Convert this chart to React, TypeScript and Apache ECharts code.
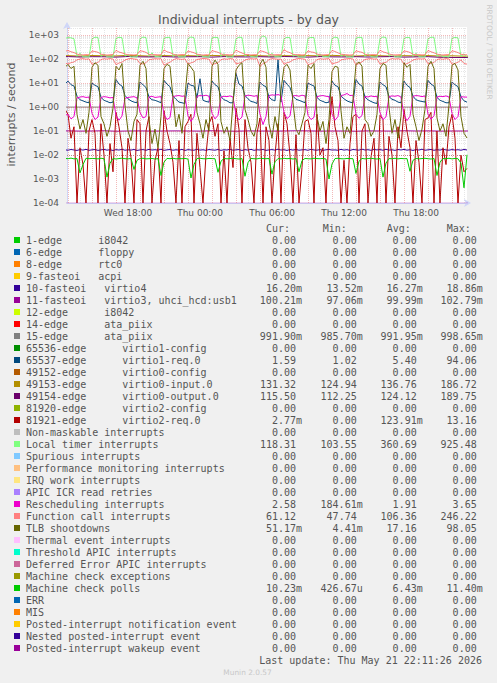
import React, { useEffect, useRef } from 'react';
import * as echarts from 'echarts';

const W = 497;
const H = 683;
const Y_MIN = 1e-4;
const Y_MAX = Math.pow(10, 10 / 3);
const X_MIN = 12.917;
const X_MAX = 46.25;

// sample times in hours since Wed 00:00
const fineTimes = Array.from({ length: 135 }, (_, i) => 12.75 + i * 0.25);
const coarseTimes = Array.from({ length: 36 }, (_, i) => 12 + i);

const xLabelHours = [18, 24, 30, 36, 42];
const xLabelTexts = ['Wed 18:00', 'Thu 00:00', 'Thu 06:00', 'Thu 12:00', 'Thu 18:00'];

// ---- series values ----
const localTimer = [
  720,
  780, 760, 700, 130, 175, 122, 125, 120,
  690, 810, 790, 128, 165, 124, 122, 118,
  720, 800, 770, 132, 150, 120, 124, 121,
  700, 820, 780, 130, 180, 125, 126, 119,
  740, 790, 800, 128, 160, 122, 123, 120,
  710, 830, 770, 131, 155, 124, 125, 118,
  760, 800, 780, 127, 170, 121, 122, 121,
  690, 810, 790, 130, 160, 126, 124, 119,
  720, 925, 800, 129, 175, 123, 125, 120,
  700, 800, 770, 132, 150, 120, 123, 118,
  730, 790, 780, 128, 165, 124, 126, 121,
  710, 820, 760, 130, 160, 122, 124, 119,
  740, 800, 790, 127, 170, 125, 122, 120,
  700, 830, 780, 131, 155, 121, 125, 118,
  720, 800, 770, 129, 175, 124, 123, 121,
  690, 810, 800, 130, 160, 122, 126, 119,
  730, 790, 760, 128, 165, 118,
];

const functionCallUpper = [
  210,
  225, 200, 185, 160, 150, 148, 152, 150,
  215, 205, 190, 158, 152, 146, 150, 155,
  230, 195, 180, 162, 148, 150, 147, 152,
  220, 210, 188, 155, 150, 152, 149, 150,
  240, 200, 185, 160, 147, 149, 153, 151,
  215, 198, 182, 158, 151, 146, 150, 148,
  225, 205, 190, 163, 149, 152, 148, 153,
  235, 200, 178, 156, 152, 147, 151, 150,
  220, 208, 186, 160, 148, 150, 152, 149,
  246, 202, 184, 157, 150, 153, 147, 151,
  218, 196, 188, 161, 149, 148, 150, 152,
  228, 205, 180, 159, 152, 150, 146, 150,
  222, 200, 190, 158, 147, 151, 152, 149,
  232, 198, 183, 162, 150, 148, 150, 153,
  216, 206, 187, 156, 151, 152, 148, 150,
  226, 200, 181, 160, 149, 147, 151, 152,
  220, 204, 185, 158, 150, 150,
];

const functionCall = [
  68,
  62, 70, 75, 92, 100, 104, 98, 102,
  60, 66, 72, 95, 103, 99, 105, 100,
  58, 68, 74, 90, 101, 106, 100, 97,
  64, 62, 70, 94, 98, 103, 101, 104,
  55, 65, 73, 91, 104, 100, 97, 102,
  61, 69, 76, 96, 100, 105, 103, 99,
  57, 64, 71, 93, 102, 98, 104, 101,
  63, 67, 74, 90, 99, 103, 100, 105,
  48, 66, 72, 95, 104, 101, 98, 100,
  60, 70, 75, 92, 100, 106, 102, 98,
  58, 63, 71, 94, 103, 99, 101, 104,
  62, 68, 73, 91, 98, 102, 105, 100,
  56, 65, 76, 96, 101, 104, 99, 102,
  61, 69, 72, 93, 105, 100, 103, 98,
  59, 64, 74, 90, 99, 102, 100, 104,
  63, 67, 71, 95, 102, 98, 104, 101,
  60, 66, 73, 92, 65, 61,
];

const tlbShootdowns = [
  45,
  60, 40, 50, 0.5, 0.12, 0.3, 0.08, 0.6,
  45, 70, 55, 0.4, 0.2, 0.06, 0.15, 0.9,
  50, 35, 65, 1.2, 0.1, 0.04, 0.25, 0.5,
  55, 80, 40, 0.3, 0.03, 0.12, 0.02, 0.4,
  40, 60, 50, 2.5, 0.15, 0.5, 0.08, 3,
  65, 45, 30, 0.6, 0.2, 0.05, 0.3, 0.1,
  50, 90, 60, 0.25, 0.08, 0.15, 0.04, 1.5,
  35, 55, 70, 0.8, 0.3, 0.1, 0.06, 0.2,
  60, 98, 45, 0.2, 0.05, 0.4, 0.1, 5,
  45, 60, 35, 1.5, 0.12, 0.07, 0.2, 0.6,
  55, 40, 65, 0.4, 0.1, 0.25, 0.03, 0.3,
  30, 50, 45, 0.7, 0.05, 0.15, 0.08, 2,
  60, 75, 50, 0.3, 0.2, 0.06, 0.1, 0.5,
  40, 65, 55, 1, 0.08, 0.3, 0.05, 0.4,
  70, 45, 60, 0.5, 0.15, 0.04, 0.12, 0.8,
  50, 80, 40, 0.35, 0.1, 0.2, 0.06, 1.2,
  55, 65, 35, 0.4, 0.08, 0.051,
];

const virtio1Req = [
  9,
  12, 8.5, 7.5, 2.8, 2.0, 1.8, 1.6, 1.5,
  10, 8, 7, 2.5, 1.9, 1.7, 1.5, 1.6,
  14, 9, 7.5, 3, 2.2, 1.8, 1.6, 1.5,
  11, 8.5, 6.5, 2.6, 2.0, 1.9, 1.7, 1.5,
  13, 9, 7, 2.8, 2.1, 1.6, 1.5, 1.4,
  10, 8, 7.5, 2.4, 15, 1.9, 1.7, 1.6,
  12, 8.5, 7, 2.7, 2.0, 1.8, 1.5, 1.5,
  25, 9, 7.5, 3, 2.2, 1.7, 1.6, 1.4,
  11, 8, 7, 2.6, 2.0, 1.8, 94, 1.6,
  13, 9, 6.5, 2.8, 2.1, 1.9, 1.7, 1.5,
  10, 8.5, 7.5, 2.5, 1.9, 1.7, 1.5, 1.6,
  12, 8, 7, 2.9, 2.2, 1.8, 1.6, 1.5,
  14, 9, 7.5, 2.6, 2.0, 1.7, 1.5, 1.4,
  11, 8.5, 7, 2.7, 2.1, 1.9, 1.6, 1.5,
  12, 8, 6.5, 2.8, 2.0, 1.8, 1.7, 1.6,
  13, 9, 7.5, 2.5, 1.9, 1.7, 1.5, 1.5,
  11, 8.5, 7, 2.6, 1.8, 1.59,
];

const rescheduling = [
  0.45,
  0.5, 0.32, 0.4, 2.4, 2.6, 2.7, 2.5, 2.6,
  0.55, 0.3, 0.38, 2.5, 2.7, 2.6, 2.4, 2.5,
  0.45, 0.28, 0.42, 2.3, 2.5, 2.6, 2.7, 2.4,
  0.6, 0.35, 0.4, 2.6, 2.8, 2.5, 2.6, 2.7,
  0.5, 0.3, 0.36, 2.7, 2.9, 3.0, 2.8, 2.9,
  0.42, 0.25, 0.4, 2.8, 3.0, 2.9, 3.1, 2.8,
  0.55, 0.32, 0.45, 2.6, 2.8, 2.7, 2.9, 2.6,
  0.48, 0.29, 0.38, 2.9, 3.1, 3.0, 2.8, 3.0,
  0.5, 0.185, 0.4, 3.0, 3.2, 3.1, 3.3, 3.0,
  0.6, 0.33, 0.42, 2.9, 3.0, 2.8, 3.1, 2.9,
  0.45, 0.3, 0.37, 2.7, 2.9, 3.0, 2.8, 2.7,
  0.52, 0.28, 0.4, 3.0, 3.2, 3.65, 3.0, 3.1,
  0.5, 0.34, 0.44, 2.8, 2.6, 2.9, 2.7, 2.8,
  0.58, 0.3, 0.39, 2.7, 2.9, 2.8, 3.0, 2.6,
  0.46, 0.27, 0.41, 2.8, 3.0, 2.9, 2.7, 2.9,
  0.5, 0.31, 0.43, 2.6, 2.8, 2.7, 2.9, 2.6,
  0.55, 0.3, 0.4, 2.7, 2.6, 2.58,
];

const virtio2Req = [
  0.8,
  0.5, 0.05, 0.15, 0, 0.02, 0.004, 0, 0.1,
  0.3, 0.08, 0, 0.2, 0.01, 0, 0.03, 0.002,
  0.6, 0.15, 0.02, 0, 0.05, 0.008, 0, 0.3,
  0.2, 0, 0.1, 0.4, 0, 0.006, 0.02, 0,
  0.7, 0.1, 0.03, 0.005, 0, 0.04, 0, 0.15,
  0.25, 0.5, 0, 0.08, 0.003, 0, 0.01, 0.2,
  0.4, 0.06, 0.2, 0, 0.015, 0, 0.05, 0.003,
  0.9, 0.12, 0, 0.3, 0.02, 0.005, 0, 0.08,
  0.35, 0, 0.15, 0.04, 0, 0.01, 0.2, 0,
  0.6, 0.2, 0.01, 0, 0.07, 0, 0.003, 0.25,
  0.3, 0.08, 0, 0.5, 0.01, 0.02, 0, 0.1,
  2.7, 0.15, 0.04, 0, 0.006, 0, 0.03, 0.4,
  0.5, 0, 0.1, 0.2, 0, 0.008, 0.05, 0,
  0.45, 0.3, 0, 0.06, 0.01, 0, 0.15, 0.02,
  0.8, 0.1, 0.02, 0, 0.04, 0.005, 0, 0.3,
  0.35, 0.6, 0, 0.1, 0, 0.02, 0.004, 0.15,
  0.5, 0.05, 0, 0.01, 0.002, 0.00277,
];

const machineCheckPolls = [
  0.0072, 0.0070, 0.0074, 0.0069, 0.0071, 0.0018, 0.0040, 0.0073, 0.0070, 0.0072,
  0.0071, 0.0069, 0.0073, 0.0070, 0.0012, 0.0045, 0.0072, 0.0068, 0.0071, 0.0074,
  0.0070, 0.0069, 0.0072, 0.0025, 0.0060, 0.0071, 0.0073, 0.0069, 0.0070, 0.0072,
  0.0068, 0.0071, 0.0014, 0.0050, 0.0072, 0.0070, 0.0073, 0.0069, 0.0071, 0.0070,
  0.0072, 0.0068, 0.0011, 0.0040, 0.0071, 0.0073, 0.0070, 0.0069, 0.0072, 0.0071,
  0.0070, 0.0019, 0.0055, 0.0072, 0.0069, 0.0071, 0.0073, 0.0070, 0.0068, 0.0071,
  0.0013, 0.0048, 0.0072, 0.0070, 0.0069, 0.0073, 0.0071, 0.0070, 0.0072, 0.0016,
  0.0052, 0.0071, 0.0069, 0.0073, 0.0070, 0.0072, 0.0068, 0.0071, 0.0020, 0.0058,
  0.0072, 0.0070, 0.0069, 0.0073, 0.0071, 0.0070, 0.0072, 0.0068, 0.0010, 0.0042,
  0.0071, 0.0073, 0.0070, 0.0069, 0.0072, 0.0071, 0.0070, 0.0017, 0.0055, 0.0072,
  0.0069, 0.0071, 0.0073, 0.0070, 0.0068, 0.0072, 0.0012, 0.0046, 0.0071, 0.0070,
  0.0073, 0.0069, 0.0072, 0.0070, 0.0071, 0.0021, 0.0060, 0.0072, 0.0069, 0.0071,
  0.0073, 0.0070, 0.0068, 0.0072, 0.0014, 0.0050, 0.0071, 0.0070, 0.0073, 0.0069,
  0.0072, 0.0070, 0.0045, 0.00043, 0.0102,
];

const virtio4 = [
  0.0165, 0.0158, 0.0170, 0.0162, 0.0155, 0.0168, 0.0160, 0.0172, 0.0157, 0.0164,
  0.0169, 0.0156, 0.0163, 0.0171, 0.0159, 0.0166, 0.0154, 0.0167, 0.0161, 0.0173,
  0.0158, 0.0165, 0.0160, 0.0170, 0.0155, 0.0163, 0.0168, 0.0157, 0.0172, 0.0161,
  0.0166, 0.0159, 0.0174, 0.0156, 0.0164, 0.0169, 0.0158, 0.0165, 0.0160, 0.0171,
  0.0155, 0.0167, 0.0162, 0.0158, 0.0173, 0.0160, 0.0165, 0.0157, 0.0169, 0.0163,
  0.0159, 0.0170, 0.0156, 0.0166, 0.0161, 0.0175, 0.0158, 0.0164, 0.0168, 0.0155,
  0.0167, 0.0160, 0.0172, 0.0157, 0.0165, 0.0162, 0.0170, 0.0156, 0.0163, 0.0168,
  0.0159, 0.0174, 0.0161, 0.0166, 0.0155, 0.0169, 0.0160, 0.0171, 0.0158, 0.0164,
  0.0167, 0.0157, 0.0173, 0.0162, 0.0159, 0.0168, 0.0156, 0.0165, 0.0170, 0.0161,
  0.0163, 0.0158, 0.0172, 0.0160, 0.0167, 0.0155, 0.0169, 0.0164, 0.0159, 0.0175,
  0.0161, 0.0166, 0.0157, 0.0170, 0.0163, 0.0168, 0.0158, 0.0173, 0.0160, 0.0165,
  0.0156, 0.0169, 0.0162, 0.0171, 0.0159, 0.0166, 0.0155, 0.0168, 0.0161, 0.0174,
  0.0158, 0.0164, 0.0170, 0.0157, 0.0167, 0.0160, 0.0172, 0.0163, 0.0159, 0.0168,
  0.0161, 0.0166, 0.0158, 0.0170, 0.0162,
];

const virtio0Input = [
  135, 138, 132, 140, 136, 134, 142, 137, 131, 139, 135, 138, 133, 141, 136, 134, 140, 137,
  132, 138, 135, 139, 134, 142, 136, 133, 140, 137, 131, 138, 135, 139, 133, 136, 131, 131,
];
const virtio0Output = [
  123, 126, 121, 125, 124, 120, 127, 123, 122, 126, 121, 124, 125, 120, 126, 123, 122, 125,
  121, 127, 124, 120, 126, 123, 122, 125, 121, 124, 126, 120, 123, 125, 118, 116, 115.5, 115.5,
];
const ataPiix15 = [
  0.992, 0.991, 0.993, 0.990, 0.992, 0.994, 0.991, 0.992, 0.990, 0.993, 0.992, 0.991,
  0.994, 0.992, 0.990, 0.993, 0.991, 0.992, 0.993, 0.990, 0.992, 0.994, 0.991, 0.992,
  0.993, 0.990, 0.992, 0.991, 0.993, 0.992, 0.990, 0.994, 0.991, 0.992, 0.992, 0.992,
];
const virtio3 = [
  0.100, 0.101, 0.099, 0.100, 0.102, 0.098, 0.100, 0.101, 0.099, 0.100, 0.101, 0.100,
  0.099, 0.102, 0.100, 0.098, 0.101, 0.100, 0.099, 0.100, 0.102, 0.101, 0.099, 0.100,
  0.100, 0.098, 0.101, 0.100, 0.099, 0.102, 0.100, 0.101, 0.099, 0.100, 0.100, 0.1002,
];
const zeroLine = coarseTimes.map(() => 0);

// ---- legend table ----
const legendLabels = [
  '1-edge      i8042',
  '6-edge      floppy',
  '8-edge      rtc0',
  '9-fasteoi   acpi',
  '10-fasteoi   virtio4',
  '11-fasteoi   virtio3, uhci_hcd:usb1',
  '12-edge      i8042',
  '14-edge      ata_piix',
  '15-edge      ata_piix',
  '65536-edge      virtio1-config',
  '65537-edge      virtio1-req.0',
  '49152-edge      virtio0-config',
  '49153-edge      virtio0-input.0',
  '49154-edge      virtio0-output.0',
  '81920-edge      virtio2-config',
  '81921-edge      virtio2-req.0',
  'Non-maskable interrupts',
  'Local timer interrupts',
  'Spurious interrupts',
  'Performance monitoring interrupts',
  'IRQ work interrupts',
  'APIC ICR read retries',
  'Rescheduling interrupts',
  'Function call interrupts',
  'TLB shootdowns',
  'Thermal event interrupts',
  'Threshold APIC interrupts',
  'Deferred Error APIC interrupts',
  'Machine check exceptions',
  'Machine check polls',
  'ERR',
  'MIS',
  'Posted-interrupt notification event',
  'Nested posted-interrupt event',
  'Posted-interrupt wakeup event',
];
const legendColors = [
  '#00CC00', '#0066B3', '#FF8000', '#FFCC00', '#330099', '#990099', '#CCFF00', '#FF0000',
  '#808080', '#008F00', '#00487D', '#B35A00', '#B38F00', '#6B006B', '#8FB300', '#B30000',
  '#BEBEBE', '#80FF80', '#80C9FF', '#FFC080', '#FFE680', '#AA80FF', '#EE00CC', '#FF8080',
  '#666600', '#FFBFFF', '#00FFCC', '#CC6699', '#999900', '#00CC00', '#0066B3', '#FF8000',
  '#FFCC00', '#330099', '#990099',
];
const curValues = [
  '0.00', '0.00', '0.00', '0.00', '16.20m', '100.21m', '0.00', '0.00', '991.90m', '0.00',
  '1.59', '0.00', '131.32', '115.50', '0.00', '2.77m', '0.00', '118.31', '0.00', '0.00',
  '0.00', '0.00', '2.58', '61.12', '51.17m', '0.00', '0.00', '0.00', '0.00', '10.23m',
  '0.00', '0.00', '0.00', '0.00', '0.00',
];
const minValues = [
  '0.00', '0.00', '0.00', '0.00', '13.52m', '97.06m', '0.00', '0.00', '985.70m', '0.00',
  '1.02', '0.00', '124.94', '112.25', '0.00', '0.00', '0.00', '103.55', '0.00', '0.00',
  '0.00', '0.00', '184.61m', '47.74', '4.41m', '0.00', '0.00', '0.00', '0.00', '426.67u',
  '0.00', '0.00', '0.00', '0.00', '0.00',
];
const avgValues = [
  '0.00', '0.00', '0.00', '0.00', '16.27m', '99.99m', '0.00', '0.00', '991.95m', '0.00',
  '5.40', '0.00', '136.76', '124.12', '0.00', '123.91m', '0.00', '360.69', '0.00', '0.00',
  '0.00', '0.00', '1.91', '106.36', '17.16', '0.00', '0.00', '0.00', '0.00', '6.43m',
  '0.00', '0.00', '0.00', '0.00', '0.00',
];
const maxValues = [
  '0.00', '0.00', '0.00', '0.00', '18.86m', '102.79m', '0.00', '0.00', '998.65m', '0.00',
  '94.06', '0.00', '186.72', '189.75', '0.00', '13.16', '0.00', '925.48', '0.00', '0.00',
  '0.00', '0.00', '3.65', '246.22', '98.05', '0.00', '0.00', '0.00', '0.00', '11.40m',
  '0.00', '0.00', '0.00', '0.00', '0.00',
];
const columnHeaders = ['Cur:', 'Min:', 'Avg:', 'Max:'];

function fmtExp(v: number): string {
  const e = Math.round(Math.log10(v));
  return '1e' + (e < 0 ? '-' : '+') + String(Math.abs(e)).padStart(2, '0');
}

function lineSeries(name: string, color: string, times: number[], values: number[], z: number, opacity = 1) {
  return {
    type: 'line',
    name,
    data: times.map((t, i) => [t, values[i] <= 0 ? Y_MIN : values[i]]),
    showSymbol: false,
    symbol: 'none',
    silent: true,
    clip: true,
    z,
    lineStyle: { color, width: 1, opacity },
    itemStyle: { color },
    emphasis: { disabled: true },
  };
}

export default function App() {
  const ref = useRef<HTMLDivElement>(null);

  useEffect(() => {
    if (!ref.current) return;
    const chart = echarts.init(ref.current, undefined, { renderer: 'svg', width: W, height: H });

    const majorHours: number[] = [];
    const minorHours: number[] = [];
    for (let h = 13; h <= 46; h++) (h % 2 === 1 ? majorHours : minorHours).push(h);
    const majorY: number[] = [];
    const minorY: number[] = [];
    for (let n = -4; n <= 3; n++) {
      majorY.push(Math.pow(10, n));
      for (let k = 2; k <= 9; k++) {
        const v = k * Math.pow(10, n);
        if (v < Y_MAX) minorY.push(v);
      }
    }

    const mono = '10px "DejaVu Sans Mono", monospace';
    const textColor = '#555555';
    const graphics: any[] = [];
    graphics.push({
      type: 'text', x: 248.5, y: 19, silent: true,
      style: { text: 'Individual interrupts - by day', font: '12.5px "DejaVu Sans"', fill: textColor, textAlign: 'center', textVerticalAlign: 'middle' },
    });
    graphics.push({
      type: 'text', x: 11, y: 114.5, rotation: Math.PI / 2, silent: true,
      style: { text: 'interrupts / second', font: '11px "DejaVu Sans"', fill: textColor, textAlign: 'center', textVerticalAlign: 'middle' },
    });
    graphics.push({
      type: 'text', x: 489, y: 52, rotation: -Math.PI / 2, silent: true,
      style: { text: 'RRDTOOL / TOBI OETIKER', font: '7.4px "DejaVu Sans"', fill: '#C8C8C8', textAlign: 'center', textVerticalAlign: 'middle' },
    });
    const headerX = [266, 322.7, 386.7, 446.7];
    columnHeaders.forEach((h, i) => {
      graphics.push({
        type: 'text', x: headerX[i], y: 228, silent: true,
        style: { text: h, font: mono, fill: textColor, textAlign: 'left', textVerticalAlign: 'middle' },
      });
    });
    const colRight = [296, 356.7, 416.7, 476.7];
    legendLabels.forEach((label, i) => {
      const y = 240 + i * 12;
      graphics.push({ type: 'rect', silent: true, shape: { x: 14, y: y - 3, width: 6, height: 6 }, style: { fill: legendColors[i] } });
      graphics.push({
        type: 'text', x: 26, y, silent: true,
        style: { text: label, font: mono, fill: textColor, textAlign: 'left', textVerticalAlign: 'middle' },
      });
      [curValues[i], minValues[i], avgValues[i], maxValues[i]].forEach((s, c) => {
        const suffix = /[a-zA-Z]$/.test(s);
        graphics.push({
          type: 'text', x: colRight[c] + (suffix ? 6 : 0), y, silent: true,
          style: { text: s, font: mono, fill: textColor, textAlign: 'right', textVerticalAlign: 'middle' },
        });
      });
    });
    graphics.push({
      type: 'text', x: 482, y: 660, silent: true,
      style: { text: 'Last update: Thu May 21 22:11:26 2026', font: mono, fill: textColor, textAlign: 'right', textVerticalAlign: 'middle' },
    });
    graphics.push({
      type: 'text', x: 247.5, y: 672, silent: true,
      style: { text: 'Munin 2.0.57', font: '7.4px "DejaVu Sans"', fill: '#C8C8C8', textAlign: 'center', textVerticalAlign: 'middle' },
    });

    const gridSeries = (name: string, color: string, xs: number[], ys: number[]) => ({
      type: 'line',
      name,
      data: [],
      silent: true,
      z: 1,
      markLine: {
        silent: true,
        symbol: ['none', 'none'],
        label: { show: false },
        animation: false,
        lineStyle: { color, width: 1, type: [1, 1] },
        emphasis: { disabled: true },
        data: [...xs.map((x) => ({ xAxis: x })), ...ys.map((y) => ({ yAxis: y }))],
      },
    });

    const option: any = {
      animation: false,
      backgroundColor: '#F0F0F0',
      grid: { left: 67, right: W - 467, top: 27, bottom: H - 203, show: true, backgroundColor: '#FFFFFF', borderWidth: 0 },
      xAxis: {
        type: 'value',
        min: X_MIN,
        max: X_MAX,
        axisLine: { show: true, onZero: false, lineStyle: { color: '#CFD6F8', width: 1 }, symbol: ['none', 'arrow'], symbolSize: [6, 7], symbolOffset: [0, 4] },
        axisTick: { show: false },
        splitLine: { show: false },
        axisLabel: {
          customValues: xLabelHours,
          formatter: (v: number) => {
            const idx = xLabelHours.indexOf(Math.round(v));
            return idx >= 0 ? xLabelTexts[idx] : '';
          },
          color: textColor,
          fontFamily: 'DejaVu Sans',
          fontSize: 9,
          margin: 5,
        },
      },
      yAxis: {
        type: 'log',
        logBase: 10,
        min: Y_MIN,
        max: Y_MAX,
        axisLine: { show: true, onZero: false, lineStyle: { color: '#CFD6F8', width: 1 }, symbol: ['none', 'arrow'], symbolSize: [6, 7], symbolOffset: [0, 5] },
        axisTick: { show: false },
        splitLine: { show: false },
        axisLabel: {
          formatter: (v: number) => fmtExp(v),
          showMaxLabel: false,
          color: textColor,
          fontFamily: 'DejaVu Sans',
          fontSize: 9,
          margin: 8,
        },
      },
      graphic: graphics,
      series: [
        gridSeries('minor grid', 'rgba(140,140,140,0.22)', minorHours, minorY),
        gridSeries('major grid', 'rgba(225,80,80,0.4)', majorHours, majorY),
        lineSeries('10-fasteoi virtio4', '#330099', fineTimes, virtio4, 2),
        lineSeries('11-fasteoi virtio3', '#990099', coarseTimes, virtio3, 2),
        lineSeries('15-edge ata_piix', '#808080', coarseTimes, ataPiix15, 2),
        lineSeries('65537-edge virtio1-req.0', '#00487D', fineTimes, virtio1Req, 2),
        lineSeries('49153-edge virtio0-input.0', '#B38F00', coarseTimes, virtio0Input, 2),
        lineSeries('49154-edge virtio0-output.0', '#6B006B', coarseTimes, virtio0Output, 2),
        lineSeries('81921-edge virtio2-req.0', '#B30000', fineTimes, virtio2Req, 2),
        lineSeries('Local timer interrupts', '#80FF80', fineTimes, localTimer, 2),
        lineSeries('Rescheduling interrupts', '#EE00CC', fineTimes, rescheduling, 2),
        lineSeries('Function call interrupts', '#FF8080', fineTimes, functionCall, 2),
        lineSeries('Function call interrupts (upper)', '#FF8080', fineTimes, functionCallUpper, 2),
        lineSeries('TLB shootdowns', '#666600', fineTimes, tlbShootdowns, 2),
        lineSeries('Machine check polls', '#00CC00', fineTimes, machineCheckPolls, 2),
        lineSeries('Posted-interrupt wakeup event', '#990099', coarseTimes, zeroLine, 2, 0.35),
      ],
    };
    chart.setOption(option);
    return () => chart.dispose();
  }, []);

  return <div ref={ref} style={{ position: 'absolute', left: 0, top: 0, width: W, height: H, whiteSpace: 'pre' }} />;
}
